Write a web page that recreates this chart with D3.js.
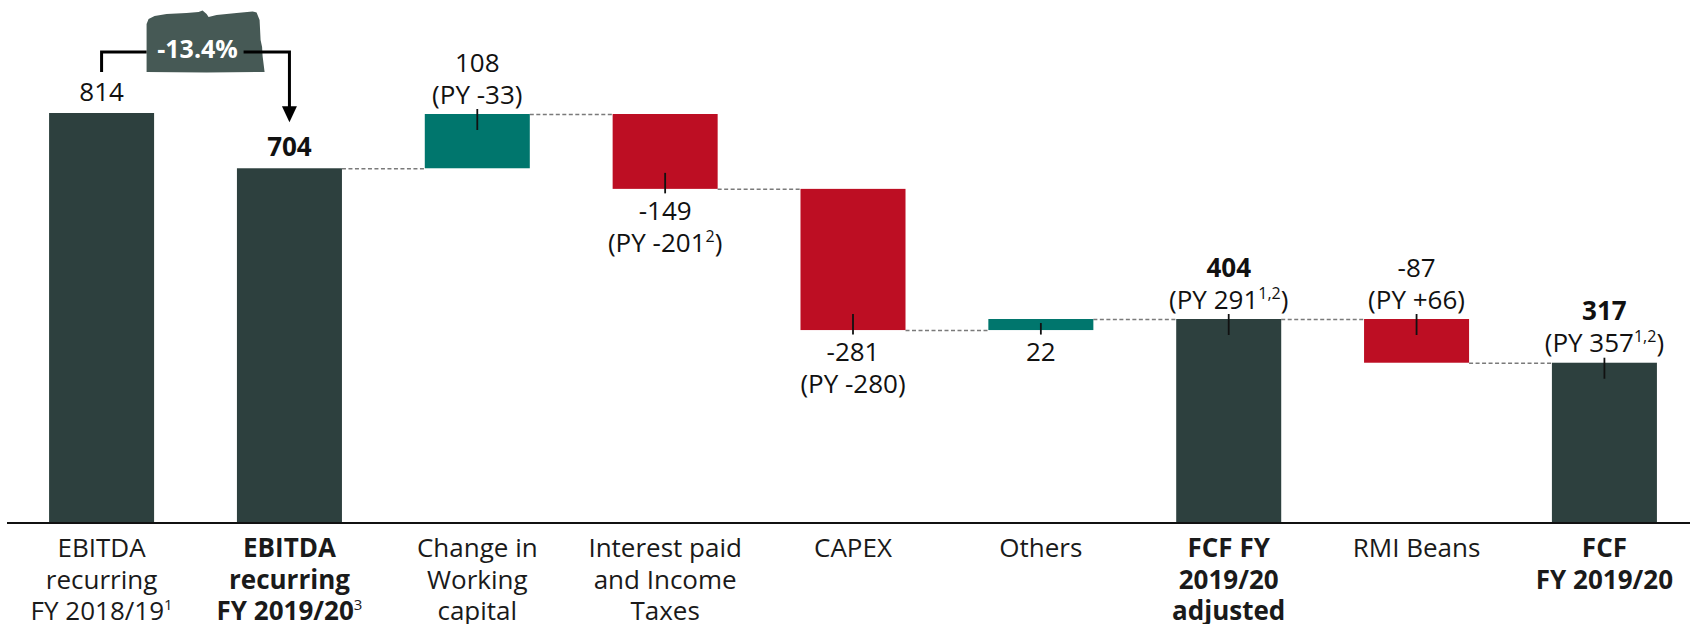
<!DOCTYPE html>
<html>
<head>
<meta charset="utf-8">
<script src="https://cdn.jsdelivr.net/npm/d3@7"></script>
<style>
    body { margin: 0; background: #fff; }
    svg { display: block; font-family: 'Open Sans', 'Noto Sans', sans-serif; }
</style>
</head>
<body>
<div id="chart-area"></div>
<script>
// chart data
const categories = ['EBITDA 18/19', 'EBITDA 19/20', 'Working capital', 'Interest and Taxes',
    'CAPEX', 'Others', 'FCF adjusted', 'RMI Beans', 'FCF']
const catLines = [
    ['EBITDA', 'recurring', 'FY 2018/19'],
    ['EBITDA', 'recurring', 'FY 2019/20'],
    ['Change in', 'Working', 'capital'],
    ['Interest paid', 'and Income', 'Taxes'],
    ['CAPEX'],
    ['Others'],
    ['FCF FY', '2019/20', 'adjusted'],
    ['RMI Beans'],
    ['FCF', 'FY 2019/20']
]
const catNotes = ['1', '3', null, null, null, null, null, null, null]
const values = [814, 704, 108, -149, -281, 22, 404, -87, 317]
const isTotal = [true, true, false, false, false, false, true, false, true]
const keyFigure = [false, true, false, false, false, false, true, false, true]
const pyValues = [null, null, '-33', '-201', '-280', null, '291', '+66', '357']
const pyNotes = [null, null, null, '2', null, null, '1,2', null, '1,2']
const changeLabel = '-13.4%'

// which bars get their label under the bar (layout choice of the original slide)
const labelUnder = ['CAPEX', 'Others', 'Interest and Taxes']

const width = 1690
const height = 624
const baseY = 522

const colors = { total: '#2d403e', up: '#00766d', down: '#bd0e23', note: '#465955' }

// running waterfall positions
let run = 0
const bars = values.map((v, i) => {
    const start = isTotal[i] ? 0 : run
    const end = start + v
    run = end
    return { i, cat: categories[i], v, start, end }
})

const svg = d3.select('#chart-area').append('svg')
    .attr('width', width)
    .attr('height', height)

const xScale = d3.scaleBand()
    .domain(categories)
    .range([7, 1699])
    .paddingInner(0.441)
    .paddingOuter(0.224)
const bw = xScale.bandwidth()

const yScale = d3.scaleLinear()
    .domain([0, d3.max(bars, d => Math.max(d.start, d.end))])
    .range([baseY, 113])

const fillOf = d => isTotal[d.i] ? colors.total : (d.v > 0 ? colors.up : colors.down)
const topOf = d => yScale(Math.max(d.start, d.end))
const bottomOf = d => yScale(Math.min(d.start, d.end))

// dashed connectors
const links = bars.slice(1, -1).map(d => ({ from: d, to: bars[d.i + 1] }))
svg.append('g').selectAll('line')
    .data(links).enter().append('line')
    .attr('x1', d => xScale(d.from.cat) + bw)
    .attr('x2', d => xScale(d.to.cat))
    .attr('y1', d => yScale(d.from.end) + 0.5)
    .attr('y2', d => yScale(d.from.end) + 0.5)
    .attr('stroke', '#7a7a7a')
    .attr('stroke-width', 1.5)
    .attr('stroke-dasharray', '4,2.5')

// bars
svg.append('g').selectAll('rect')
    .data(bars).enter().append('rect')
    .attr('x', d => xScale(d.cat))
    .attr('y', topOf)
    .attr('width', bw)
    .attr('height', d => bottomOf(d) - topOf(d))
    .attr('fill', fillOf)

// value labels
const below = d => labelUnder.includes(d.cat)

const labels = svg.append('g').selectAll('g')
    .data(bars).enter().append('g')
    .attr('transform', d => `translate(${xScale(d.cat) + bw / 2}, 0)`)
    .attr('font-size', '26px')
    .attr('fill', '#111')
    .attr('text-anchor', 'middle')

labels.each(function (d) {
    const g = d3.select(this)
    const py = pyValues[d.i]
    let y1, y2
    if (below(d)) {
        y1 = bottomOf(d) + 31
        y2 = y1 + 32
    } else if (py) {
        y2 = topOf(d) - 10.5
        y1 = y2 - 32
    } else {
        y1 = topOf(d) - 12
    }
    g.append('text')
        .attr('y', y1)
        .attr('font-weight', keyFigure[d.i] ? 700 : 400)
        .text(d.v)
    if (py) {
        const t = g.append('text').attr('y', y2)
        t.append('tspan').text('(PY ' + py)
        if (pyNotes[d.i]) {
            t.append('tspan').attr('dy', -10).attr('font-size', '16px').text(pyNotes[d.i])
            t.append('tspan').attr('dy', 10).text(')')
        } else {
            t.append('tspan').text(')')
        }
    }
    if (d.i > 1) {
        const ya = below(d) ? Math.max(topOf(d) + 4, bottomOf(d) - 16) : topOf(d) - 5
        const yb = below(d) ? bottomOf(d) + 4.5 : topOf(d) + 16
        g.append('line')
            .attr('x1', 0).attr('x2', 0)
            .attr('y1', ya).attr('y2', yb)
            .attr('stroke', '#111')
            .attr('stroke-width', 1.8)
    }
})

// x axis
const xAxisCall = d3.axisBottom(xScale).tickSize(0).tickFormat('')
const xAxis = svg.append('g')
    .attr('class', 'x axis')
    .attr('transform', `translate(0, ${baseY})`)
    .call(xAxisCall)
    .attr('font-family', null)
    .attr('font-size', null)
xAxis.select('.domain')
    .attr('stroke', '#111')
    .attr('stroke-width', 2.2)
    .attr('d', 'M7,1H1690')

xAxis.selectAll('.tick text').each(function (cat, i) {
    const t = d3.select(this)
        .attr('y', null).attr('dy', null)
        .attr('fill', '#1a1a1a')
        .attr('font-size', '26px')
        .attr('font-weight', keyFigure[i] ? 700 : 400)
    catLines[i].forEach((line, k) => {
        t.append('tspan').attr('x', 0).attr('y', 35 + k * 31.5).text(line)
        if (k === catLines[i].length - 1 && catNotes[i]) {
            t.append('tspan').attr('dy', -10).attr('font-size', '15px').attr('font-weight', 400).text(catNotes[i])
        }
    })
})

// year-on-year change annotation
const xa = xScale(categories[0]) + bw / 2
const xb = xScale(categories[1]) + bw / 2
const yLine = yScale(values[0]) - 61
const note = svg.append('g')

const bx = xa + 45
const by = yLine - 42
const shape = [[0, 62], [0, 14], [2, 9], [8, 6], [20, 4], [40, 3], [52, 2], [56, 0.5], [60, 4], [62, 7],
    [70, 5], [90, 3], [106, 1.5], [110, 2.5], [113, 10], [114, 30], [115.5, 37], [116, 46], [118, 62], [60, 62.5]]
note.append('path')
    .attr('d', d3.line().curve(d3.curveLinearClosed)(shape.map(p => [bx + p[0], by + p[1]])))
    .attr('fill', colors.note)

note.append('path')
    .attr('d', `M${xa},${yScale(values[0]) - 41}V${yLine}H${bx}M${bx + 97},${yLine}H${xb}V${yScale(values[1]) - 58}`)
    .attr('fill', 'none')
    .attr('stroke', '#000')
    .attr('stroke-width', 3)

const tip = yScale(values[1]) - 46
note.append('path')
    .attr('d', `M${xb - 7.5},${tip - 16}H${xb + 7.5}L${xb},${tip}Z`)
    .attr('fill', '#000')

note.append('text')
    .attr('x', bx + 51)
    .attr('y', yLine + 6)
    .attr('text-anchor', 'middle')
    .attr('font-size', '25px')
    .attr('font-weight', 700)
    .attr('fill', '#fff')
    .text(changeLabel)
</script>
</body>
</html>
